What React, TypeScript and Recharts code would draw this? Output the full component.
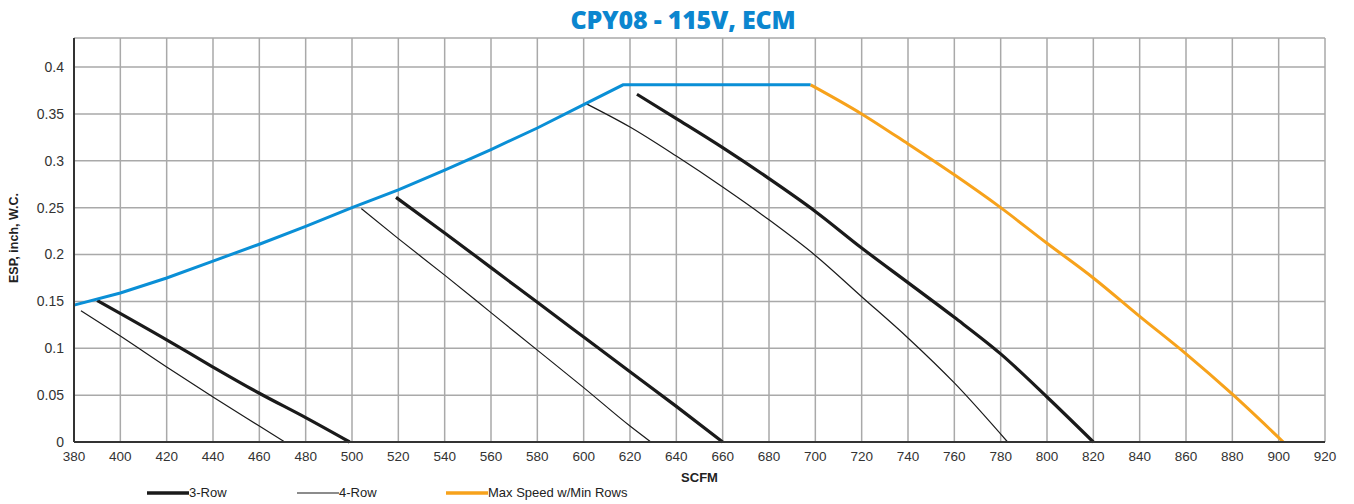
import React from 'react';
import { LineChart, Line, XAxis, YAxis, CartesianGrid, Legend } from 'recharts';

const TITLE = 'CPY08 - 115V, ECM';
const X_LABEL = 'SCFM';
const Y_LABEL = 'ESP, inch, W.C.';

const xTicks = [380, 400, 420, 440, 460, 480, 500, 520, 540, 560, 580, 600, 620, 640, 660, 680, 700, 720, 740, 760, 780, 800, 820, 840, 860, 880, 900, 920];
const yTicks = [0, 0.05, 0.1, 0.15, 0.2, 0.25, 0.3, 0.35, 0.4];

// Max-speed envelope (blue, not in legend)
const envelope = [
  { x: 380, y: 0.146 }, { x: 400, y: 0.159 }, { x: 420, y: 0.175 }, { x: 440, y: 0.193 },
  { x: 460, y: 0.211 }, { x: 480, y: 0.230 }, { x: 500, y: 0.250 }, { x: 520, y: 0.269 },
  { x: 540, y: 0.290 }, { x: 560, y: 0.312 }, { x: 580, y: 0.335 }, { x: 600, y: 0.360 },
  { x: 617, y: 0.381 }, { x: 698, y: 0.381 },
];

// Max Speed w/Min Rows (orange)
const maxSpeed = [
  { x: 698, y: 0.381 }, { x: 720, y: 0.350 }, { x: 740, y: 0.318 }, { x: 760, y: 0.285 },
  { x: 780, y: 0.250 }, { x: 800, y: 0.212 }, { x: 820, y: 0.175 }, { x: 840, y: 0.134 },
  { x: 860, y: 0.094 }, { x: 880, y: 0.051 }, { x: 902, y: 0 },
];

// 3-Row curves
const row3Low = [
  { x: 390, y: 0.151 }, { x: 420, y: 0.109 }, { x: 440, y: 0.080 }, { x: 460, y: 0.052 },
  { x: 480, y: 0.026 }, { x: 499, y: 0 },
];
const row3Mid = [
  { x: 519, y: 0.261 }, { x: 540, y: 0.223 }, { x: 560, y: 0.186 }, { x: 580, y: 0.149 },
  { x: 600, y: 0.112 }, { x: 620, y: 0.075 }, { x: 640, y: 0.038 }, { x: 660, y: 0 },
];
const row3High = [
  { x: 623, y: 0.371 }, { x: 640, y: 0.345 }, { x: 660, y: 0.314 }, { x: 680, y: 0.281 },
  { x: 700, y: 0.246 }, { x: 720, y: 0.207 }, { x: 740, y: 0.170 }, { x: 760, y: 0.133 },
  { x: 780, y: 0.094 }, { x: 800, y: 0.048 }, { x: 820, y: 0 },
];

// 4-Row curves
const row4Low = [
  { x: 383, y: 0.140 }, { x: 400, y: 0.113 }, { x: 420, y: 0.080 }, { x: 440, y: 0.048 },
  { x: 460, y: 0.017 }, { x: 471, y: 0 },
];
const row4Mid = [
  { x: 504, y: 0.249 }, { x: 520, y: 0.217 }, { x: 540, y: 0.178 }, { x: 560, y: 0.138 },
  { x: 580, y: 0.098 }, { x: 600, y: 0.058 }, { x: 620, y: 0.017 }, { x: 629, y: 0 },
];
const row4High = [
  { x: 601, y: 0.361 }, { x: 620, y: 0.336 }, { x: 640, y: 0.305 }, { x: 660, y: 0.272 },
  { x: 680, y: 0.237 }, { x: 700, y: 0.199 }, { x: 720, y: 0.155 }, { x: 740, y: 0.111 },
  { x: 760, y: 0.063 }, { x: 783, y: 0 },
];

const legendItems = [
  { label: '3-Row', color: '#1a1a1a', width: 3.5, offset: 147 },
  { label: '4-Row', color: '#1a1a1a', width: 1.2, offset: 297 },
  { label: 'Max Speed w/Min Rows', color: '#f7a21b', width: 3.5, offset: 446 },
];

const BLUE = '#0a8fd6';
const ORANGE = '#f7a21b';
const BLACK = '#1a1a1a';
const GRID = '#a9a9a9';
const FONT = '"Liberation Sans", Arial, sans-serif';
const NARROW = '"Liberation Sans Narrow", "Arial Narrow", "Liberation Sans", Arial, sans-serif';

const LegendContent = () => (
  <div style={{ position: 'relative', height: 16, width: 1354, fontFamily: NARROW, fontSize: 13, color: '#222' }}>
    {legendItems.map((it) => (
      <div key={it.label} style={{ position: 'absolute', left: it.offset, top: 0, height: 16, display: 'flex', alignItems: 'center' }}>
        <svg width={42} height={16}>
          <line x1={0} y1={8} x2={42} y2={8} stroke={it.color} strokeWidth={it.width} />
        </svg>
        <span style={{ lineHeight: '16px' }}>{it.label}</span>
      </div>
    ))}
  </div>
);

const YLabel = (props: any) => {
  const vb = props.viewBox || { x: 0, y: 0, width: 0, height: 0 };
  const cx = 14;
  const cy = vb.y + vb.height / 2 - 2;
  return (
    <text x={cx} y={cy} transform={`rotate(-90, ${cx}, ${cy})`} textAnchor="middle" dominantBaseline="central"
      style={{ fontFamily: FONT, fontSize: 12.5, fontWeight: 700, fill: '#222' }}>
      {Y_LABEL}
    </text>
  );
};

const XLabel = (props: any) => {
  const vb = props.viewBox || { x: 0, y: 0, width: 0, height: 0 };
  return (
    <text x={vb.x + vb.width / 2} y={482} textAnchor="middle"
      style={{ fontFamily: FONT, fontSize: 13, fontWeight: 700, fill: '#222' }}>
      {X_LABEL}
    </text>
  );
};

export default function App() {
  const lineProps = { dot: false, isAnimationActive: false, activeDot: false as const, type: 'monotone' as const, legendType: 'none' as const };
  return (
    <div style={{ position: 'absolute', left: 0, top: 0, width: 1354, height: 504, background: '#fff' }}>
      <div style={{ position: 'absolute', left: 0, top: 3, width: 1366, textAlign: 'center', fontFamily: '"Open Sans", sans-serif', fontWeight: 800, fontSize: 25, color: '#0b86cf', lineHeight: '32px', letterSpacing: '-0.2px' }}>
        {TITLE}
      </div>
      <LineChart width={1354} height={504} margin={{ top: 38, right: 29, bottom: 3, left: 14 }}>
        <CartesianGrid xAxisId="main" yAxisId="main" stroke={GRID} strokeWidth={1.5} horizontal vertical />
        <XAxis xAxisId="main" dataKey="x" type="number" domain={[380, 920]} ticks={xTicks} allowDuplicatedCategory={false}
          height={43} tickLine={false} tickSize={6} tickMargin={3} axisLine={{ stroke: '#333', strokeWidth: 2 }}
          tick={{ fill: '#333', fontSize: 13.5, fontFamily: NARROW }} interval={0} label={<XLabel />} />
        <XAxis xAxisId="top" orientation="top" type="number" domain={[380, 920]} height={0} tick={false} tickLine={false}
          axisLine={{ stroke: '#333', strokeWidth: 2 }} />
        <YAxis yAxisId="main" type="number" domain={[0, 0.431]} ticks={yTicks} width={60} tickLine={false} tickSize={6} tickMargin={4}
          axisLine={{ stroke: '#333', strokeWidth: 2 }} tick={{ fill: '#333', fontSize: 14, fontFamily: FONT }} interval={0}
          label={<YLabel />} />
        <YAxis yAxisId="right" orientation="right" type="number" domain={[0, 0.431]} width={0} tick={false} tickLine={false}
          axisLine={{ stroke: '#333', strokeWidth: 2 }} />
        <Legend verticalAlign="bottom" align="left" content={<LegendContent />} wrapperStyle={{ left: 0, width: 1354, height: 16 }} />
        <Line {...lineProps} xAxisId="main" yAxisId="main" data={row4Low} dataKey="y" stroke={BLACK} strokeWidth={1.2} name="4-Row A" />
        <Line {...lineProps} xAxisId="main" yAxisId="main" data={row4Mid} dataKey="y" stroke={BLACK} strokeWidth={1.2} name="4-Row B" />
        <Line {...lineProps} xAxisId="main" yAxisId="main" data={row4High} dataKey="y" stroke={BLACK} strokeWidth={1.2} name="4-Row C" />
        <Line {...lineProps} xAxisId="main" yAxisId="main" data={row3Low} dataKey="y" stroke={BLACK} strokeWidth={3.2} name="3-Row A" />
        <Line {...lineProps} xAxisId="main" yAxisId="main" data={row3Mid} dataKey="y" stroke={BLACK} strokeWidth={3.2} name="3-Row B" />
        <Line {...lineProps} xAxisId="main" yAxisId="main" data={row3High} dataKey="y" stroke={BLACK} strokeWidth={3.2} name="3-Row C" />
        <Line {...lineProps} type="linear" xAxisId="main" yAxisId="main" data={envelope} dataKey="y" stroke={BLUE} strokeWidth={3} name="Envelope" />
        <Line {...lineProps} xAxisId="main" yAxisId="main" data={maxSpeed} dataKey="y" stroke={ORANGE} strokeWidth={3} name="Max Speed" />
      </LineChart>
    </div>
  );
}
